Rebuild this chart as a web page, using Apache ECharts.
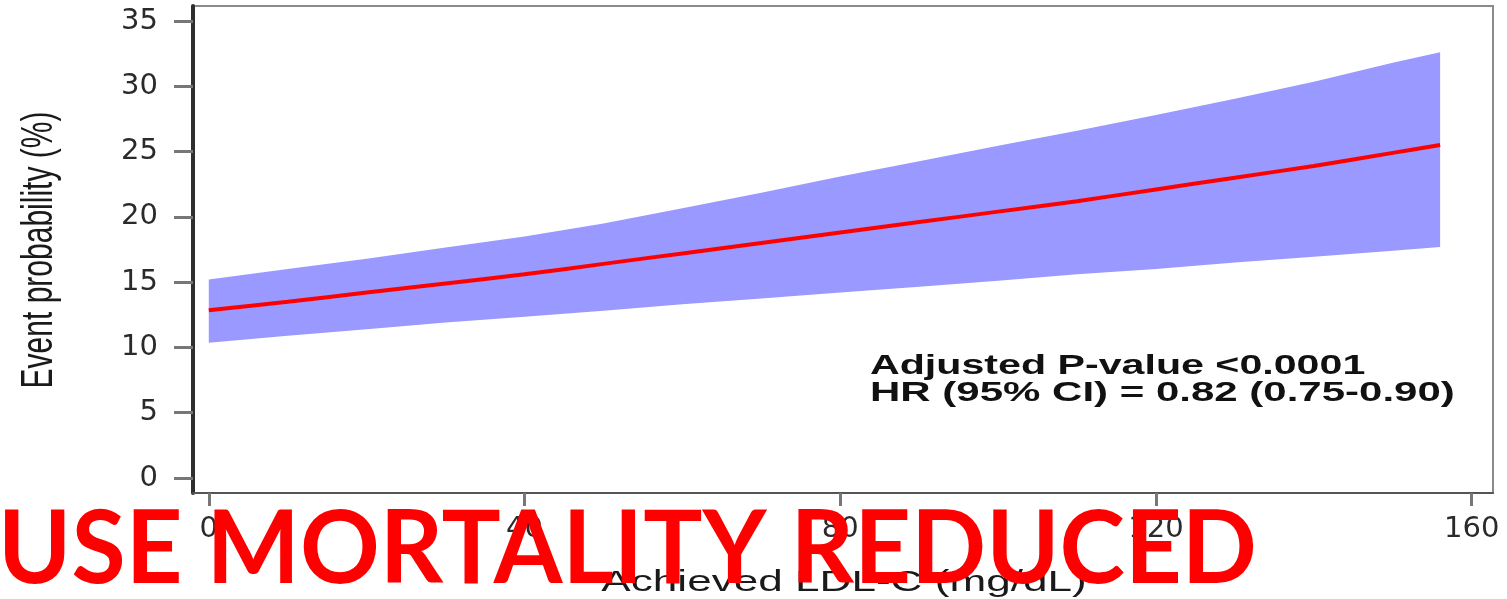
<!DOCTYPE html>
<html>
<head>
<meta charset="utf-8">
<title>Event probability by achieved LDL-C</title>
<script src="https://cdn.jsdelivr.net/npm/echarts@6/dist/echarts.min.js"></script>
<style>
  html, body { margin: 0; padding: 0; background: #ffffff; }
  #chart { width: 1507px; height: 599px; }
</style>
</head>
<body>
<div id="chart"></div>
<script>
// Achieved LDL-C (mg/dL) at which the model curve is evaluated
const ldl = [0, 10, 20, 30, 40, 50, 60, 70, 80, 90, 100, 110, 120, 130, 140, 150, 156];
// Estimated event probability (%)
const eventProb = [12.85, 13.5, 14.2, 14.9, 15.6, 16.4, 17.2, 18.0, 18.8, 19.6, 20.4, 21.2, 22.1, 23.0, 23.9, 24.9, 25.5];
// 95% confidence band (%)
const ciLower = [10.35, 10.9, 11.4, 11.9, 12.35, 12.8, 13.3, 13.75, 14.2, 14.65, 15.1, 15.6, 16.0, 16.5, 16.95, 17.4, 17.7];
const ciUpper = [15.2, 16.0, 16.8, 17.65, 18.5, 19.5, 20.65, 21.85, 23.1, 24.25, 25.45, 26.6, 27.8, 29.05, 30.35, 31.8, 32.6];

const xTicks = [0, 40, 80, 120, 160];
const yTicks = [0, 5, 10, 15, 20, 25, 30, 35];

const xTitle = 'Achieved LDL-C (mg/dL)';
const yTitle = 'Event probability (%)';
const statLines = ['Adjusted P-value <0.0001', 'HR (95% CI) = 0.82 (0.75-0.90)'];
const banner = 'USE MORTALITY REDUCED';

// Text in this figure is drawn wide; this is the horizontal stretch applied.
const STRETCH = 1.47;

const bandRows = ldl.map((x, i) => [x, ciLower[i], ciUpper[i]]);
const linePts = ldl.map((x, i) => [x, eventProb[i]]);

// Scale needed for a bold banner line to span a given width
function bannerScale(text, font, width) {
  const ctx = document.createElement('canvas').getContext('2d');
  ctx.font = font;
  return width / ctx.measureText(text).width;
}

const bannerFontSize = 102;
const bannerFamily = 'Lato';
const bannerScaleX = bannerScale(banner, 'bold ' + bannerFontSize + 'px ' + bannerFamily, 1259);

// Confidence band: one polygon, upper edge left to right then lower edge back
function renderBand(params, api) {
  if (params.dataIndex !== 0) return null;
  const upper = bandRows.map(r => api.coord([r[0], r[2]]));
  const lower = bandRows.slice().reverse().map(r => api.coord([r[0], r[1]]));
  return {
    type: 'polygon',
    shape: { points: upper.concat(lower) },
    style: { fill: '#9999ff', stroke: null }
  };
}

const chart = echarts.init(document.getElementById('chart'), null, { renderer: 'canvas' });

chart.setOption({
  animation: false,
  backgroundColor: '#ffffff',
  grid: {
    left: 193, right: 14, top: 6, bottom: 106,
    show: true, borderColor: '#8a8a8a', borderWidth: 2, backgroundColor: 'transparent'
  },
  xAxis: {
    type: 'value',
    min: -2, max: 162.7,
    axisLine: { show: true, onZero: false, lineStyle: { color: '#555555', width: 2 } },
    axisTick: { show: true, customValues: xTicks, length: 13, lineStyle: { color: '#777777', width: 3 } },
    axisLabel: {
      show: true, customValues: xTicks, margin: 22,
      fontFamily: 'DejaVu Sans', fontSize: 29, color: '#2a2a2a'
    },
    splitLine: { show: false }
  },
  yAxis: {
    type: 'value',
    min: -1.15, max: 36.15,
    axisLine: { show: true, onZero: false, lineStyle: { color: '#2e2e2e', width: 4 } },
    axisTick: { show: true, customValues: yTicks, length: 19, lineStyle: { color: '#777777', width: 3 } },
    axisLabel: {
      show: true, customValues: yTicks, margin: 35,
      fontFamily: 'DejaVu Sans', fontSize: 29, color: '#2a2a2a'
    },
    splitLine: { show: false }
  },
  series: [
    {
      name: '95% CI', type: 'custom', data: bandRows,
      encode: { x: 0, y: [1, 2] },
      renderItem: renderBand, silent: true, z: 1
    },
    {
      name: 'Event probability', type: 'line', data: linePts,
      showSymbol: false, silent: true, smooth: 0.3,
      lineStyle: { color: '#ff0000', width: 4 }, z: 3
    }
  ],
  graphic: [
    {
      type: 'text', x: 40, y: 250, rotation: Math.PI / 2, scaleY: STRETCH, z: 10,
      style: {
        text: yTitle, fontFamily: 'Liberation Sans', fontSize: 30, fill: '#1a1a1a',
        align: 'center', verticalAlign: 'middle', textAlign: 'center', textVerticalAlign: 'middle'
      }
    },
    {
      type: 'text', x: 844, y: 583, scaleX: STRETCH, z: 10,
      style: {
        text: xTitle, fontFamily: 'Liberation Sans', fontSize: 30, fill: '#1a1a1a',
        align: 'center', verticalAlign: 'middle', textAlign: 'center', textVerticalAlign: 'middle'
      }
    },
    {
      type: 'text', x: 870, y: 366, scaleX: STRETCH, z: 10,
      style: {
        text: statLines[0], fontFamily: 'Liberation Sans', fontWeight: 'bold', fontSize: 28, fill: '#111111',
        align: 'left', verticalAlign: 'middle', textAlign: 'left', textVerticalAlign: 'middle'
      }
    },
    {
      type: 'text', x: 870, y: 393, scaleX: 1.5, z: 10,
      style: {
        text: statLines[1], fontFamily: 'Liberation Sans', fontWeight: 'bold', fontSize: 28, fill: '#111111',
        align: 'left', verticalAlign: 'middle', textAlign: 'left', textVerticalAlign: 'middle'
      }
    },
    {
      type: 'text', x: -2, y: 550, scaleX: bannerScaleX, z: 100,
      style: {
        text: banner, fontFamily: bannerFamily, fontWeight: 'bold', fontSize: bannerFontSize, fill: '#ff0000',
        align: 'left', verticalAlign: 'middle', textAlign: 'left', textVerticalAlign: 'middle'
      }
    }
  ]
});
</script>
</body>
</html>
